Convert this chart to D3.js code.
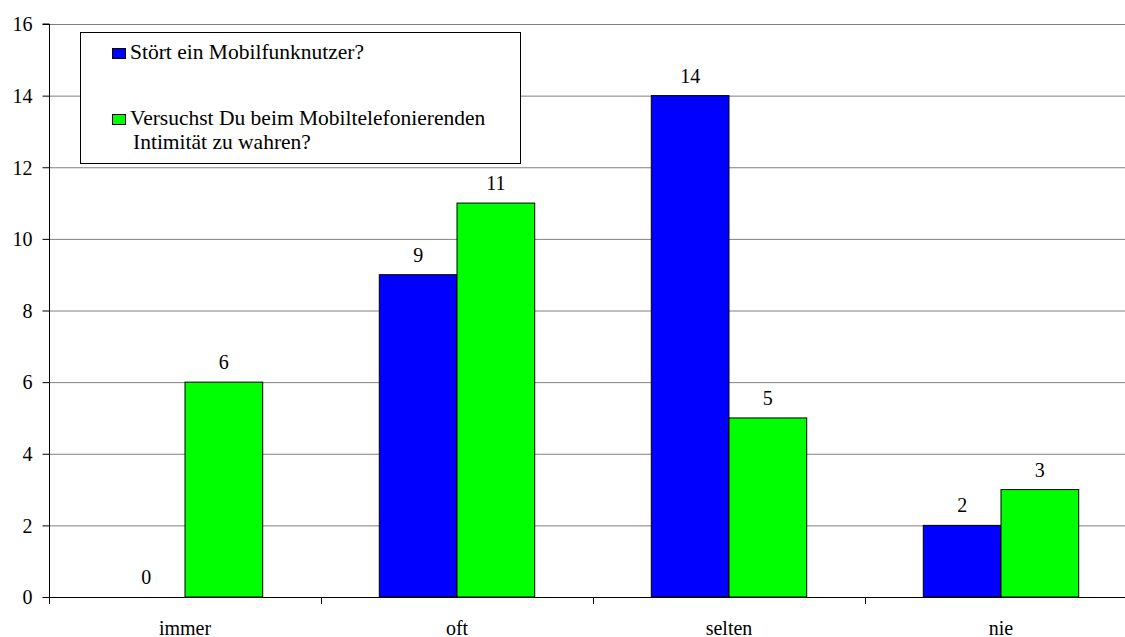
<!DOCTYPE html>
<html><head><meta charset="utf-8">
<script src="https://cdn.jsdelivr.net/npm/d3@7"></script>
<style>body{margin:0;background:#fff}svg{display:block}svg text{font-family:"Times New Roman","Liberation Serif",serif !important}</style>
</head><body><svg id="c" width="1125" height="637"></svg>
<script>
const categories = ["immer", "oft", "selten", "nie"];
const seriesNames = ["Stört ein Mobilfunknutzer?", "Versuchst Du beim Mobiltelefonierenden Intimität zu wahren?"];
const seriesStoert = [0, 9, 14, 2];
const seriesIntim = [6, 11, 5, 3];
const yTicks = [0, 2, 4, 6, 8, 10, 12, 14, 16];
const colors = ["#0000ff", "#00ff00"];

(function () {
const svg = d3.select("#c");
const pL = 49, pR = 1137, pT = 24, pB = 597;
const FS = 20;
const x = d3.scaleBand().domain(categories).range([pL, pR]).paddingInner(0).paddingOuter(0);
const y = d3.scaleLinear().domain([0, 16]).range([pB, pT]);
const inner = d3.scaleBand().domain([0, 1]).range([0, x.bandwidth()]).paddingInner(0).paddingOuter(0.75);

// gridlines
svg.append("g").selectAll("line").data(yTicks.filter(d => d > 0)).join("line")
  .attr("x1", pL).attr("x2", pR).attr("y1", d => y(d) + 0.5).attr("y2", d => y(d) + 0.5)
  .attr("stroke", "#808080").attr("stroke-width", 1);

// bars
const series = [seriesStoert, seriesIntim];
series.forEach((vals, si) => {
  svg.append("g").selectAll("rect").data(categories).join("rect")
    .attr("x", (c) => x(c) + inner(si))
    .attr("y", (c, i) => y(vals[i]))
    .attr("width", inner.bandwidth())
    .attr("height", (c, i) => pB - y(vals[i]))
    .attr("fill", colors[si]).attr("stroke", "#000").attr("stroke-width", 1);
  svg.append("g").selectAll("text").data(categories).join("text")
    .attr("x", (c) => x(c) + inner(si) + inner.bandwidth() / 2)
    .attr("y", (c, i) => y(vals[i]) - 13)
    .attr("text-anchor", "middle").attr("font-size", FS).attr("fill", "#000")
    .text((c, i) => vals[i]);
});

// y axis
const ya = svg.append("g").attr("transform", `translate(${pL + 0.5},0)`)
  .call(d3.axisLeft(y).tickValues(yTicks).tickSize(7).tickPadding(10).tickFormat(d3.format("d")));
ya.select(".domain").attr("stroke", "#000").attr("d", `M-7,${pT}H0V${pB}`);
ya.selectAll(".tick line").attr("stroke", "#000");
ya.selectAll(".tick text").attr("font-size", FS).attr("fill", "#000").attr("dy", "0.34em");

// x axis
const xa = svg.append("g").attr("transform", `translate(0,${pB + 0.5})`)
  .call(d3.axisBottom(x).tickSize(0).tickPadding(0));
xa.select(".domain").attr("stroke", "#000").attr("d", `M${pL},0H${pR}`);
xa.selectAll(".tick text").attr("font-size", FS).attr("fill", "#000").attr("dy", 0).attr("y", 37);
svg.append("g").selectAll("line").data(categories.concat(["_end"])).join("line")
  .attr("x1", (c, i) => pL + i * x.step() + 0.5).attr("x2", (c, i) => pL + i * x.step() + 0.5)
  .attr("y1", pB).attr("y2", pB + 7).attr("stroke", "#000");

// legend
const lg = svg.append("g");
lg.append("rect").attr("x", 80.5).attr("y", 32.5).attr("width", 440).attr("height", 131)
  .attr("fill", "#fff").attr("stroke", "#000");
const items = [
  {lines: [seriesNames[0]], y: 59},
  {lines: ["Versuchst Du beim Mobiltelefonierenden", "Intimität zu wahren?"], y: 125}
];
items.forEach((it, i) => {
  lg.append("rect").attr("x", 112.5).attr("y", it.y - 10.5).attr("width", 13).attr("height", 10)
    .attr("fill", colors[i]).attr("stroke", "#000");
  const t = lg.append("text").attr("font-size", 21.5).attr("fill", "#000");
  it.lines.forEach((l, j) => t.append("tspan").attr("x", j === 0 ? 130 : 133).attr("y", it.y + j * 24).text(l));
});
})();
</script></body></html>
